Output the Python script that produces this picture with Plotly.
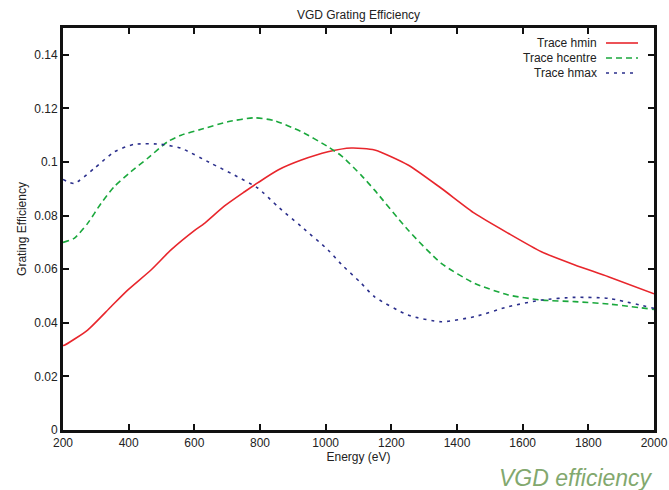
import plotly.graph_objects as go

# Trace hmin
hmin_e = [200, 204, 275, 346, 397, 468, 529, 600, 631, 692, 753, 794, 855, 926, 1007, 1078,
          1149, 1251, 1352, 1454, 1556, 1657, 1759, 1861, 2000]
hmin_v = [0.0315, 0.0316, 0.0373, 0.0460, 0.0522, 0.0597, 0.0672, 0.0744, 0.0771, 0.0836, 0.0889,
          0.0923, 0.0970, 0.1007, 0.1038, 0.1052, 0.1045, 0.0989, 0.0902, 0.0808, 0.0734,
          0.0665, 0.0616, 0.0572, 0.0508]

# Trace hcentre
hcen_e = [200, 234, 275, 316, 356, 407, 458, 519, 560, 621, 702, 783, 844, 926, 1007, 1048,
          1108, 1149, 1251, 1352, 1454, 1556, 1657, 1759, 1861, 2000]
hcen_v = [0.0700, 0.0715, 0.0771, 0.0846, 0.0908, 0.0964, 0.1014, 0.1076, 0.1100, 0.1122, 0.1150,
          0.1165, 0.1154, 0.1113, 0.1057, 0.1023, 0.0951, 0.0895, 0.0746, 0.0622, 0.0547,
          0.0504, 0.0485, 0.0479, 0.0470, 0.0450]

# Trace hmax
hmax_e = [200, 234, 295, 356, 417, 499, 560, 651, 722, 794, 855, 926, 1007, 1048, 1108, 1149,
          1251, 1352, 1454, 1556, 1657, 1759, 1861, 2000]
hmax_v = [0.0935, 0.0920, 0.0976, 0.1038, 0.1066, 0.1066, 0.1051, 0.0995, 0.0951, 0.0902, 0.0833,
          0.0759, 0.0672, 0.0618, 0.0548, 0.0497, 0.0429, 0.0404, 0.0423, 0.0460, 0.0485,
          0.0495, 0.0491, 0.0454]

x_ticks = [200, 400, 600, 800, 1000, 1200, 1400, 1600, 1800, 2000]
y_ticks = [0, 0.02, 0.04, 0.06, 0.08, 0.1, 0.12, 0.14]
y_tick_labels = ["0", "0.02", "0.04", "0.06", "0.08", "0.1", "0.12", "0.14"]

series = [
    ("Trace hmin", hmin_e, hmin_v, "#e8262c", "solid"),
    ("Trace hcentre", hcen_e, hcen_v, "#1aa83c", "6px,4px"),
    ("Trace hmax", hmax_e, hmax_v, "#2b2f8c", "3px,5px"),
]

fig = go.Figure()
for name, xs, ys, col, dash in series:
    fig.add_trace(go.Scatter(x=xs, y=ys, mode="lines", name=name,
                             line=dict(color=col, width=1.6, dash=dash, shape="spline", smoothing=0.6),
                             showlegend=False))

FONT = "Liberation Sans, Arial, sans-serif"
W, H = 669, 490
L, R, T, B = 63, 15, 28, 60
pw, ph = W - L - R, H - T - B

def px2paper(px, py):
    return (px - L) / pw, (H - B - py) / ph

# Custom legend: text right-aligned, sample line to its right
rows = [43, 58, 73]
for (name, xs, ys, col, dash), ry in zip(series, rows):
    tx, ty = px2paper(599, ry)
    fig.add_annotation(x=tx, y=ty, xref="paper", yref="paper", text=name, showarrow=False,
                       xanchor="right", yanchor="middle", font=dict(family=FONT, size=12, color="#222"))
    x0, y0 = px2paper(606, ry)
    x1, _ = px2paper(638, ry)
    fig.add_shape(type="line", xref="paper", yref="paper", x0=x0, x1=x1, y0=y0, y1=y0,
                  line=dict(color=col, width=1.6, dash=dash))

fig.add_annotation(x=px2paper(655, 0)[0], y=px2paper(0, 478)[1], xref="paper", yref="paper",
                   text="<i>VGD efficiency</i>",
                   showarrow=False, xanchor="right", yanchor="middle",
                   font=dict(family=FONT, size=23, color="#82a86e"))

axis_common = dict(showline=True, linecolor="#111", linewidth=3, mirror="ticks",
                   ticks="inside", ticklen=6, tickwidth=2, tickcolor="#111",
                   showgrid=False, zeroline=False, automargin=False,
                   tickfont=dict(family=FONT, size=12, color="#222"))

fig.update_layout(
    width=W, height=H,
    margin=dict(l=L, r=R, t=T, b=B, autoexpand=False),
    paper_bgcolor="white", plot_bgcolor="white",
    title=dict(text="VGD Grating Efficiency", x=0.5, xanchor="center", xref="paper",
               y=1 - 15 / H, yanchor="middle", yref="container",
               font=dict(family=FONT, size=12, color="#222")),
    xaxis=dict(range=[200, 2000], tickvals=x_ticks, title=dict(text="Energy (eV)", standoff=4,
               font=dict(family=FONT, size=12, color="#222")), **axis_common),
    yaxis=dict(range=[0, 0.15], tickvals=y_ticks, ticktext=y_tick_labels,
               title=dict(text="Grating Efficiency", standoff=6, font=dict(family=FONT, size=12, color="#222")),
               **axis_common),
)

fig.write_html("out.html", config={"displayModeBar": False},
               post_script="document.body.style.margin='0';document.body.style.overflow='hidden';")
